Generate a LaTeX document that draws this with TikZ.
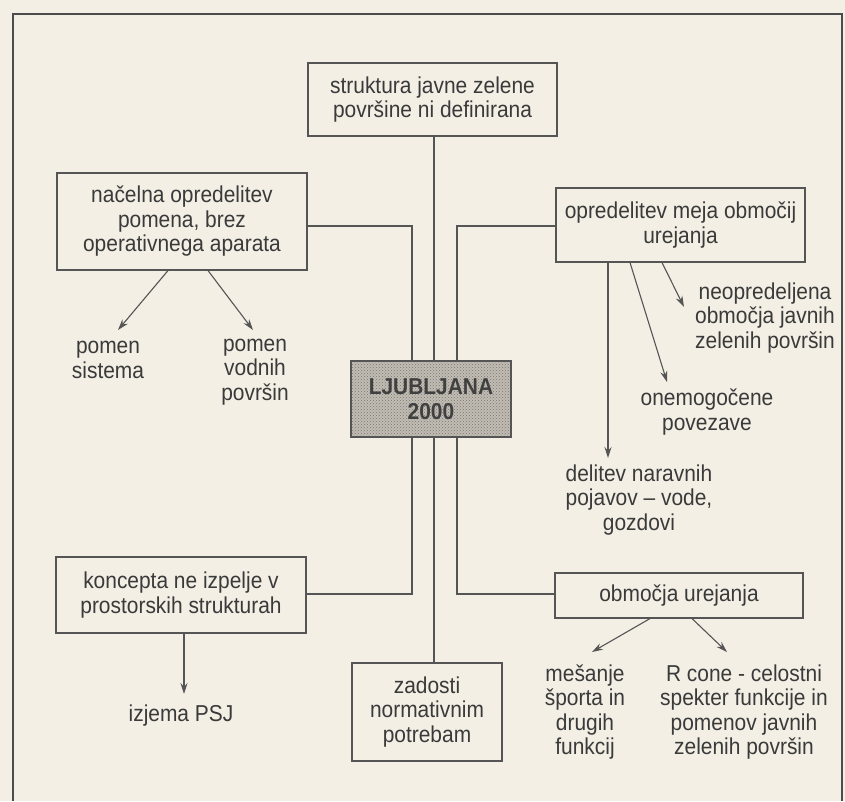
\documentclass[tikz,border=0pt]{standalone}
\usepackage{fontspec}
\setmainfont{Liberation Sans}[FakeStretch=0.91]
\usetikzlibrary{arrows.meta,patterns,calc}
\definecolor{paper}{HTML}{F3EFE5}
\definecolor{ink}{HTML}{555555}
\definecolor{txt}{HTML}{3A3A3A}
\definecolor{screen}{HTML}{C2BDB4}
\definecolor{dots}{HTML}{7A756D}
\begin{document}
\begin{tikzpicture}[x=1pt,y=-1pt,
  box/.style={draw=ink, line width=1.1pt, inner sep=0pt, align=center, text=txt,
              font=\fontsize{23}{24.5}\selectfont},
  lbl/.style={inner sep=0pt, align=center, text=txt, font=\fontsize{23}{24.5}\selectfont},
  conn/.style={draw=ink, line width=1.1pt},
  arr/.style={draw=ink, line width=1.1pt, -{Stealth[length=11pt,width=7pt]}},
  frame/.style={draw=ink!90!black, line width=1.6pt}]
\useasboundingbox (0,0) rectangle (845,801);
\fill[paper] (0,0) rectangle (845,801);
\draw[frame] (13,801) -- (13,14) -- (842,14) -- (842,801);

% boxes
\node[box, minimum width=249, minimum height=73] (T) at (432.5,99.5) {struktura javne zelene\\površine ni definirana};
\node[box, minimum width=250, minimum height=97] (A) at (182,221.5) {načelna opredelitev\\pomena, brez\\operativnega aparata};
\node[box, minimum width=249, minimum height=74] (R) at (680.5,225) {opredelitev meja območij\\urejanja};
\node[box, minimum width=250, minimum height=76] (C) at (181,595) {koncepta ne izpelje v\\prostorskih strukturah};
\node[box, minimum width=248, minimum height=45] (S) at (679,595.5) {območja urejanja};
\node[box, minimum width=150, minimum height=98] (B) at (427,712) {zadosti\\normativnim\\potrebam};

% connectors
\coordinate (ct) at (434,136);
\coordinate (lt) at (412,226);
\coordinate (lb) at (412,594);
\coordinate (rt) at (457,226);
\coordinate (rb) at (457,594);
\draw[conn] (T.south -| ct) -- (B.north -| ct);
\draw[conn] (A.east |- lt) -- (lt) -- (lb) -- (C.east |- lb);
\draw[conn] (R.west |- rt) -- (rt) -- (rb) -- (S.west |- rb);

% centre
\node[box, minimum width=160, minimum height=76, preaction={fill=screen},
      pattern=crosshatch dots, pattern color=dots,
      font=\fontsize{23}{25}\selectfont\bfseries, text=ink!75!black] (L) at (431,399) {LJUBLJANA\\2000};

% labels
\node[lbl] (ps) at (108,360) {pomen\\sistema};
\node[lbl] (pv) at (255,372) {pomen\\vodnih\\površin};
\node[lbl] (ne) at (765,318) {neopredeljena\\območja javnih\\zelenih površin};
\node[lbl] (on) at (707,412) {onemogočene\\povezave};
\node[lbl] (de) at (639,500) {delitev naravnih\\pojavov – vode,\\gozdovi};
\node[lbl] (iz) at (181,716) {izjema PSJ};
\node[lbl] (me) at (585,712) {mešanje\\športa in\\drugih\\funkcij};
\node[lbl] (rc) at (744,712) {R cone - celostni\\spekter funkcije in\\pomenov javnih\\zelenih površin};

% arrow tips
\coordinate (t1) at (118,330);
\coordinate (t2) at (253,330);
\coordinate (t3) at (608,458);
\coordinate (t4) at (667,382);
\coordinate (t5) at (684,307);
\coordinate (t6) at (184,694);
\coordinate (t7) at (592,652);
\coordinate (t8) at (727,652);

\draw[arr] ([xshift=-14pt]A.south) -- (t1);
\draw[arr] ([xshift=26pt]A.south) -- (t2);
\draw[arr] ([xshift=-72.5pt]R.south) -- (t3);
\draw[arr] ([xshift=-50.5pt]R.south) -- (t4);
\draw[arr] ([xshift=-18.5pt]R.south) -- (t5);
\draw[arr] ([xshift=3pt]C.south) -- (t6);
\draw[arr] ([xshift=-29pt]S.south) -- (t7);
\draw[arr] ([xshift=13pt]S.south) -- (t8);
\end{tikzpicture}
\end{document}
